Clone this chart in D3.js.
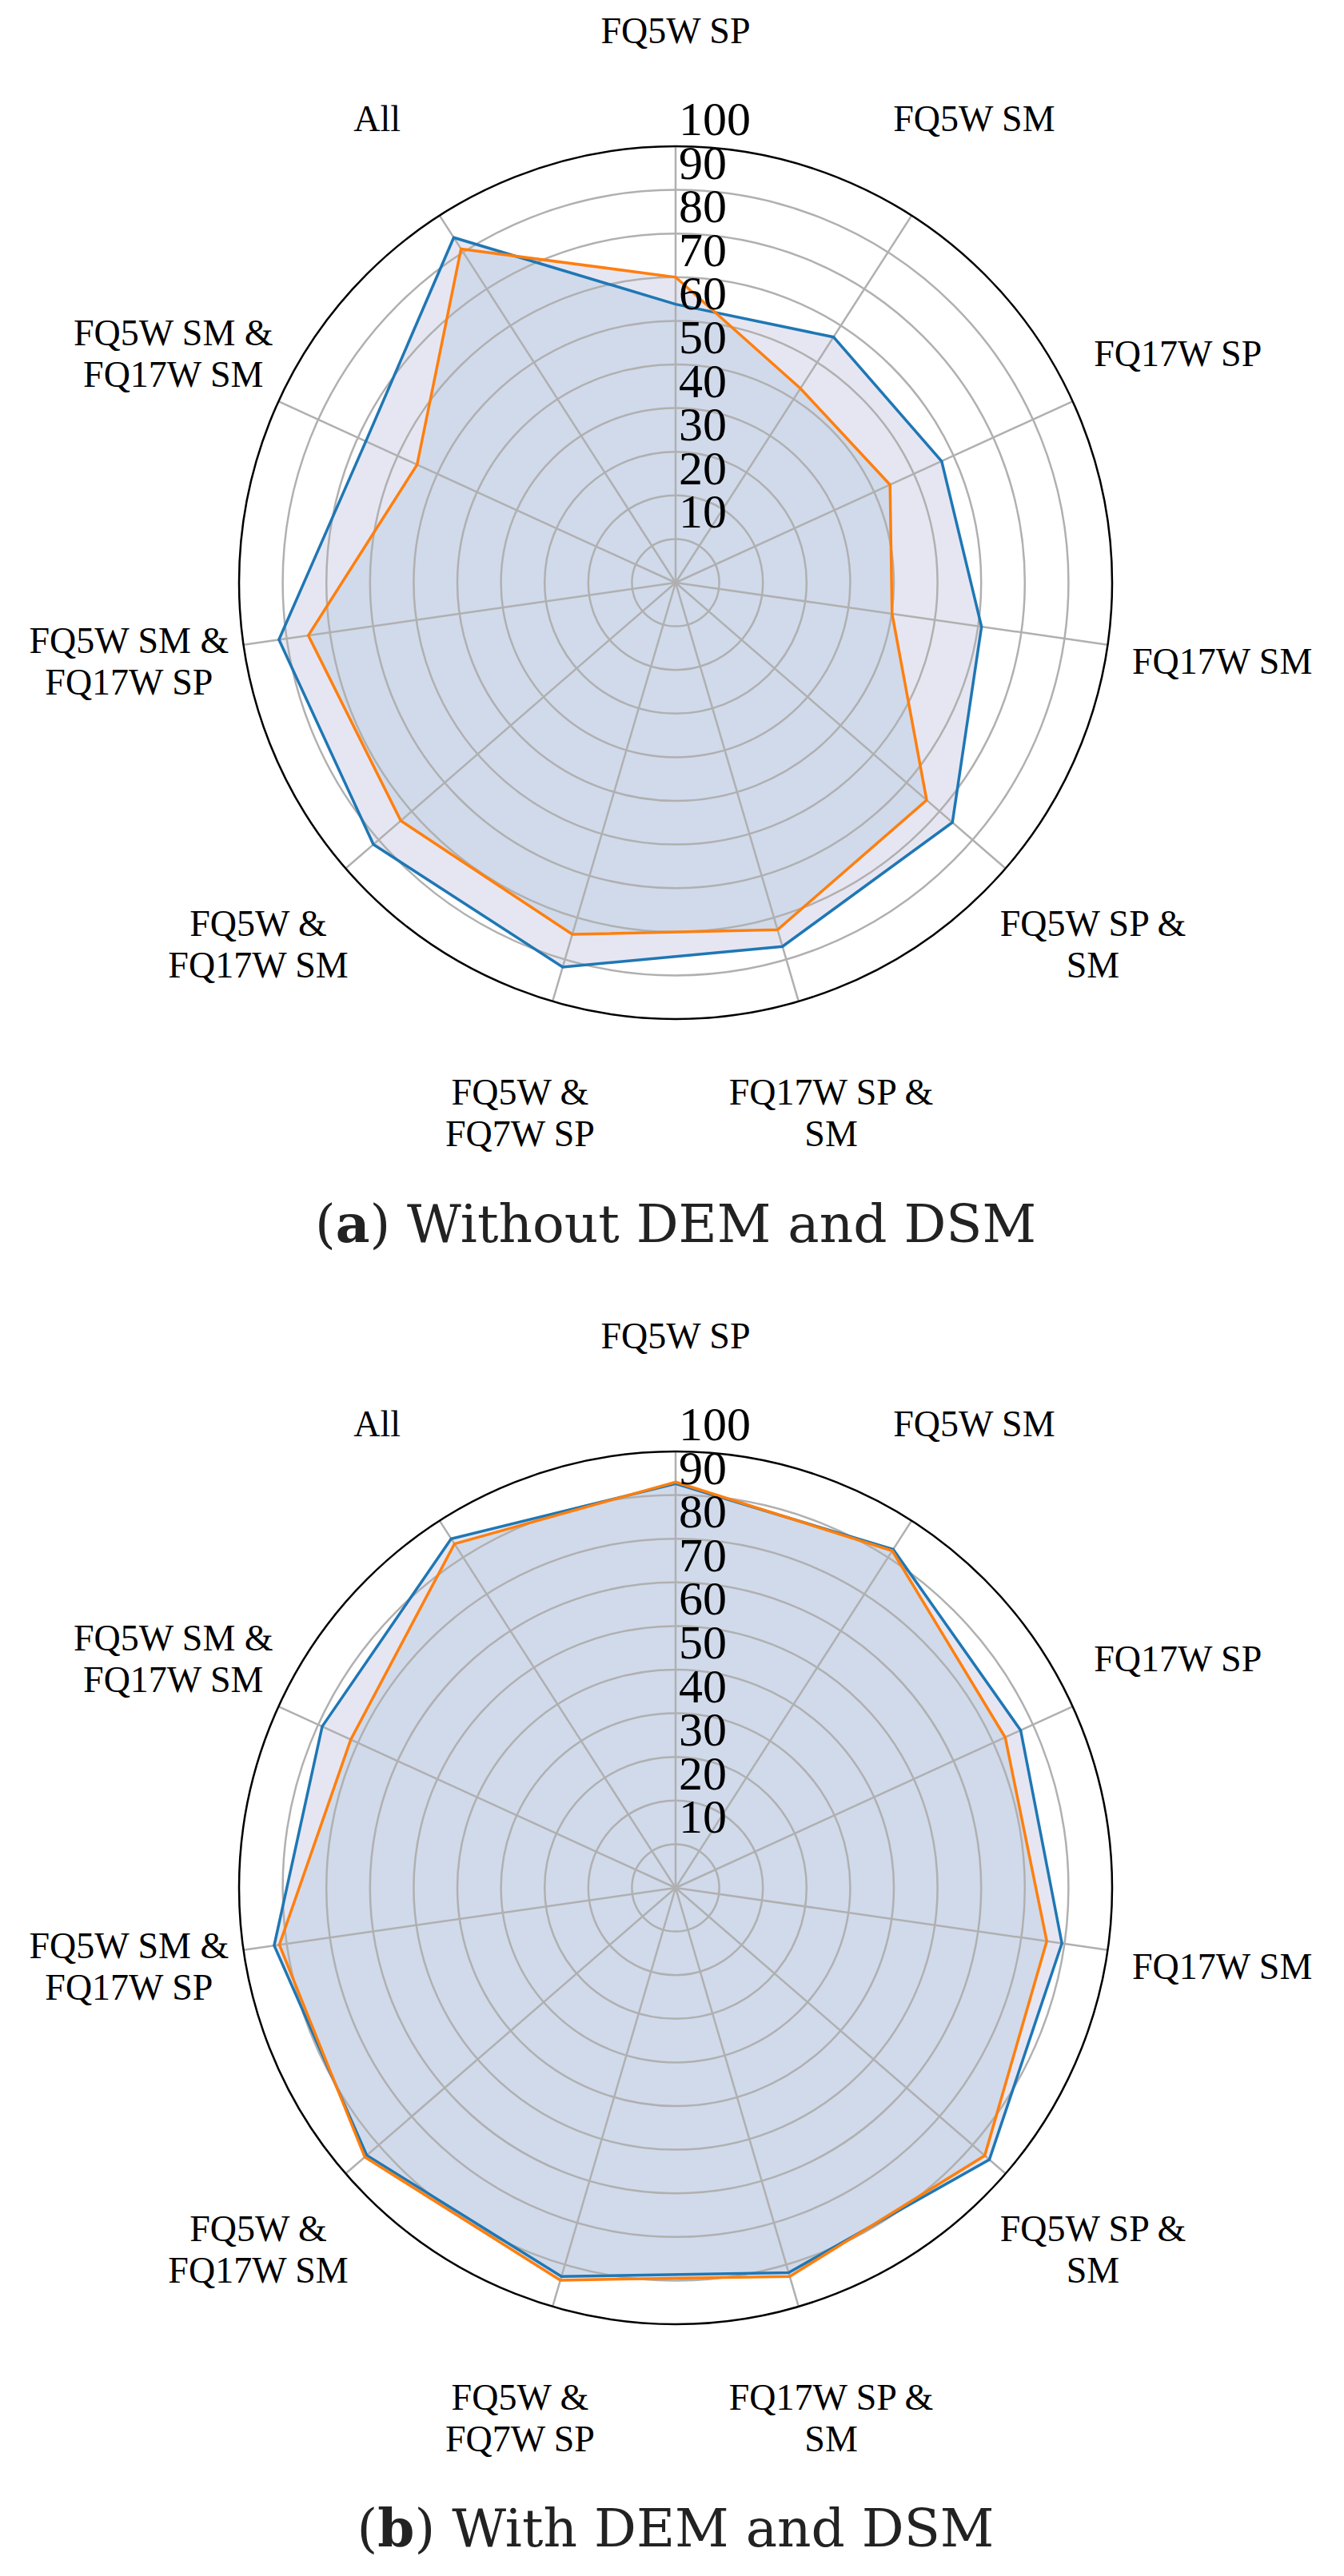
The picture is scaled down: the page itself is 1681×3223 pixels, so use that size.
<!DOCTYPE html>
<html><head><meta charset="utf-8">
<script src="https://cdn.jsdelivr.net/npm/d3@7"></script>
<style>body{margin:0;background:#fff}</style></head>
<body><svg id="c" width="1681" height="3223"></svg>
<script>
const categories = [["FQ5W SP"],["FQ5W SM"],["FQ17W SP"],["FQ17W SM"],["FQ5W SP &","SM"],["FQ17W SP &","SM"],["FQ5W &","FQ7W SP"],["FQ5W &","FQ17W SM"],["FQ5W SM &","FQ17W SP"],["FQ5W SM &","FQ17W SM"],["All"]];
const ticks = [10,20,30,40,50,60,70,80,90,100];
const blueA   = [63.8,66.9,67.0,70.8,83.9,86.9,91.8,91.6,91.8,78.0,94.0];
const orangeA = [70.0,52.9,54.0,50.1,76.1,82.9,84.0,83.3,85.0,65.1,90.9];
const blueB   = [92.6,92.2,86.9,89.4,95.1,91.9,92.8,93.6,92.9,89.0,95.1];
const orangeB = [93.0,91.8,83.0,85.9,93.7,92.8,93.7,94.2,91.7,81.8,93.7];

const svg = d3.select("#c");
const R = 546;
const r = d3.scaleLinear().domain([0,100]).range([0,R]);
const ang = d3.scaleLinear().domain([0,categories.length]).range([0,2*Math.PI]);
const font = "'Liberation Serif','Times New Roman',serif";

function radar(cx, cy, blue, orange, capLetter, capText, capY){
  const g = svg.append("g").attr("transform",`translate(${cx},${cy})`);
  const line = d3.lineRadial().angle((d,i)=>ang(i)).radius(d=>r(d)).curve(d3.curveLinearClosed);
  g.append("path").attr("d",line(blue)).attr("fill","#e6e6f3");
  g.append("path").attr("d",line(orange)).attr("fill","#e6e6f3");
  const id = "clip"+capLetter;
  g.append("clipPath").attr("id",id).append("path").attr("d",line(blue));
  g.append("path").attr("d",line(orange)).attr("fill","#d0daeb").attr("clip-path",`url(#${id})`);
  g.selectAll("circle.ring").data(ticks.slice(0,-1)).join("circle")
    .attr("r",d=>r(d)).attr("fill","none").attr("stroke","#b0b0b0").attr("stroke-width",2.5);
  g.selectAll("line.spoke").data(categories).join("line")
    .attr("x1",0).attr("y1",0)
    .attr("x2",(d,i)=>r(100)*Math.sin(ang(i))).attr("y2",(d,i)=>-r(100)*Math.cos(ang(i)))
    .attr("stroke","#b0b0b0").attr("stroke-width",2.5);
  g.append("path").attr("d",line(blue)).attr("fill","none").attr("stroke","#1f77b4").attr("stroke-width",3.5);
  g.append("path").attr("d",line(orange)).attr("fill","none").attr("stroke","#ff7f0e").attr("stroke-width",3.5);
  g.append("circle").attr("r",R).attr("fill","none").attr("stroke","#000").attr("stroke-width",2.5);
  g.selectAll("text.tick").data(ticks).join("text")
    .attr("x",4).attr("y",d=>-r(d)-14)
    .attr("font-family",font).attr("font-size",60).attr("fill","#000").text(d=>d);
  const lr = R*1.265, lh = 52;
  categories.forEach((lines,i)=>{
    const x = lr*Math.sin(ang(i)), y = -lr*Math.cos(ang(i));
    const t = g.append("text").attr("font-family",font).attr("font-size",46)
      .attr("text-anchor","middle").attr("fill","#000");
    lines.forEach((s,k)=>{
      t.append("tspan").attr("x",x)
       .attr("y", y + (k-(lines.length-1)/2)*lh + 16).text(s);
    });
  });
  const c = svg.append("text").attr("x",cx).attr("y",capY).attr("text-anchor","middle")
    .attr("font-family","'DejaVu Serif',serif").attr("font-size",66).attr("fill","#222");
  c.append("tspan").text("(");
  c.append("tspan").attr("font-weight","bold").text(capLetter);
  c.append("tspan").text(") "+capText);
}
radar(845,729,blueA,orangeA,"a","Without DEM and DSM",1554);
radar(845,2362,blueB,orangeB,"b","With DEM and DSM",3186);
</script></body></html>
